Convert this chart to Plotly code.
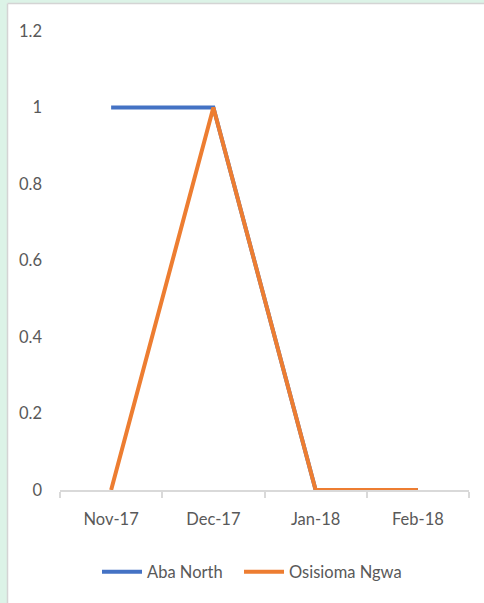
import plotly.graph_objects as go

months = ["Nov-17", "Dec-17", "Jan-18", "Feb-18"]
aba_north = [1, 1, 0, 0]
osisioma_ngwa = [0, 1, 0, 0]

W, H = 484, 603
L, R, T, B = 60, 15, 31, 113
pw, ph = W - L - R, H - T - B

def px_x(x):
    return (x - L) / pw

def px_y(y):
    return (H - B - y) / ph

font_family = "Lato, Carlito, Open Sans, sans-serif"
fsize = 16.5
txt = "#595959"

fig = go.Figure()
fig.add_trace(go.Scatter(x=months, y=aba_north, mode="lines", name="Aba North",
                         line=dict(color="#4472C4", width=4), legend="legend"))
fig.add_trace(go.Scatter(x=months, y=osisioma_ngwa, mode="lines", name="Osisioma Ngwa",
                         line=dict(color="#ED7D31", width=4), legend="legend2"))

shapes = [
    dict(type="rect", xref="paper", yref="paper", x0=px_x(0), x1=px_x(7), y0=px_y(H), y1=px_y(0),
         fillcolor="#dcf3e7", line=dict(width=0), layer="below"),
    dict(type="rect", xref="paper", yref="paper", x0=px_x(0), x1=px_x(W), y0=px_y(3), y1=px_y(0),
         fillcolor="#dcf3e7", line=dict(width=0), layer="below"),
    dict(type="line", xref="paper", yref="paper", x0=px_x(7.5), x1=px_x(7.5), y0=px_y(H), y1=px_y(3.5),
         line=dict(color="#d4d4d4", width=1.5), layer="below"),
    dict(type="line", xref="paper", yref="paper", x0=px_x(7.5), x1=px_x(W), y0=px_y(3.5), y1=px_y(3.5),
         line=dict(color="#d4d4d4", width=1.5), layer="below"),
]

leg_common = dict(orientation="h", xanchor="left", yanchor="middle", y=px_y(572),
                  font=dict(size=fsize, color=txt), itemwidth=40)

fig.update_layout(
    width=W, height=H,
    margin=dict(l=L, r=R, t=T, b=B, autoexpand=False),
    paper_bgcolor="white", plot_bgcolor="white",
    font=dict(family=font_family, size=fsize, color=txt),
    shapes=shapes,
    showlegend=True,
    legend=dict(x=px_x(97), **leg_common),
    legend2=dict(x=px_x(239), **leg_common),
    xaxis=dict(type="category", range=[-0.5, 3.5], showgrid=False, showline=True,
               linecolor="#d9d9d9", linewidth=2, ticks="outside", tickson="boundaries",
               ticklen=6, tickcolor="#d9d9d9", tickwidth=2, ticklabelstandoff=13,
               zeroline=False),
    yaxis=dict(range=[0, 1.2], dtick=0.2, showgrid=False, showline=False, zeroline=False,
               ticks="", ticklabelstandoff=17),
)

fig.write_html("out.html", config={"displayModeBar": False},
               post_script="document.body.style.margin='0';document.body.style.overflow='hidden';")
